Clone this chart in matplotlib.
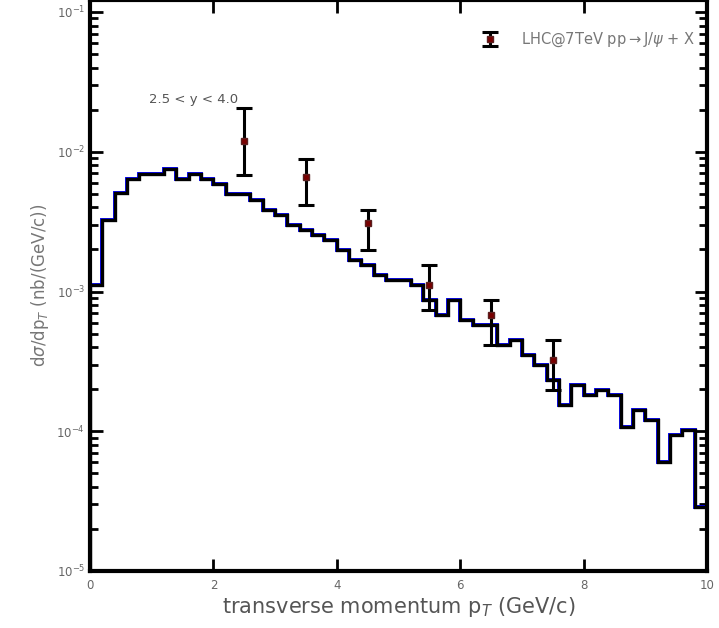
import numpy as np
import matplotlib
matplotlib.use("Agg")
import matplotlib.pyplot as plt

# histogram: 50 bins of 0.2 GeV/c from 0 to 10
bin_edges = np.linspace(0, 10, 51)
hist_vals = [1.11e-3, 3.25e-3, 5.07e-3, 6.38e-3, 6.93e-3, 6.93e-3, 7.53e-3, 6.38e-3, 6.93e-3, 6.38e-3,
             5.87e-3, 4.99e-3, 4.99e-3, 4.52e-3, 3.83e-3, 3.52e-3, 2.99e-3, 2.75e-3, 2.54e-3, 2.34e-3,
             1.98e-3, 1.68e-3, 1.55e-3, 1.31e-3, 1.21e-3, 1.21e-3, 1.11e-3, 8.69e-4, 6.79e-4, 8.69e-4,
             6.25e-4, 5.76e-4, 5.76e-4, 4.14e-4, 4.50e-4, 3.51e-4, 2.98e-4, 2.33e-4, 1.54e-4, 2.14e-4,
             1.82e-4, 1.97e-4, 1.82e-4, 1.07e-4, 1.42e-4, 1.20e-4, 6.03e-5, 9.40e-5, 1.02e-4, 2.87e-5]

# data points
pt_data = [2.5, 3.5, 4.5, 5.5, 6.5, 7.5]
y_data = [1.19e-2, 6.59e-3, 3.09e-3, 1.11e-3, 6.79e-4, 3.24e-4]
y_hi = [2.06e-2, 8.87e-3, 3.83e-3, 1.55e-3, 8.69e-4, 4.50e-4]
y_lo = [6.82e-3, 4.16e-3, 1.98e-3, 7.38e-4, 4.14e-4, 1.97e-4]

fig = plt.figure(figsize=(7.19, 6.28), dpi=100)
# top of the frame sits at the image edge, decade 1e-1 is 12 px below it
ax = fig.add_axes([90/719, 1 - 571/628, 617/719, 571/628])

h = np.array(hist_vals)
ax.stairs(h, bin_edges, color='#0000ff', lw=2.8, zorder=2)
ax.stairs(h, bin_edges, color='black', lw=2.4, zorder=3)

yerr = [np.array(y_data) - np.array(y_lo), np.array(y_hi) - np.array(y_data)]
ax.errorbar(pt_data, y_data, yerr=yerr, fmt='s', color='black', ecolor='black',
            mfc='#7a0000', mec='#5a2020', ms=5, elinewidth=2.2, capsize=6, capthick=2.2,
            zorder=4, label='LHC@7TeV pp$\\rightarrow$J/$\\psi$ + X')

ax.set_yscale('log')
ax.set_xlim(0, 10)
ax.set_ylim(1e-5, 10 ** (-1 + 12 / 139.75))
ax.set_xticks([0, 2, 4, 6, 8, 10])

ax.tick_params(which='both', direction='in', top=True, right=True, colors='black',
               labelcolor='#666666', labelsize=8.5)
ax.tick_params(which='major', length=9, width=2)
ax.tick_params(which='minor', length=6, width=2)
ax.tick_params(axis='x', which='minor', bottom=False, top=False)
ax.tick_params(axis='x', pad=6)
for s in ax.spines.values():
    s.set_linewidth(3)

ax.set_xlabel('transverse momentum p$_T$ (GeV/c)', fontsize=15, color='#555555', labelpad=2)
ax.set_ylabel('d$\\sigma$/dp$_T$ (nb/(GeV/c))', fontsize=12, color='#777777', labelpad=4)

ax.text(0.095, 0.825, '2.5 < y < 4.0', transform=ax.transAxes, fontsize=9.5,
        color='#555555', va='center')

leg = ax.legend(loc='center right', bbox_to_anchor=(0.99, 0.93), frameon=False, fontsize=10.5,
                handlelength=1.0, handletextpad=1.6, borderaxespad=0.0)
for t in leg.get_texts():
    t.set_color('#777777')

fig.savefig('out.png', dpi=100)
